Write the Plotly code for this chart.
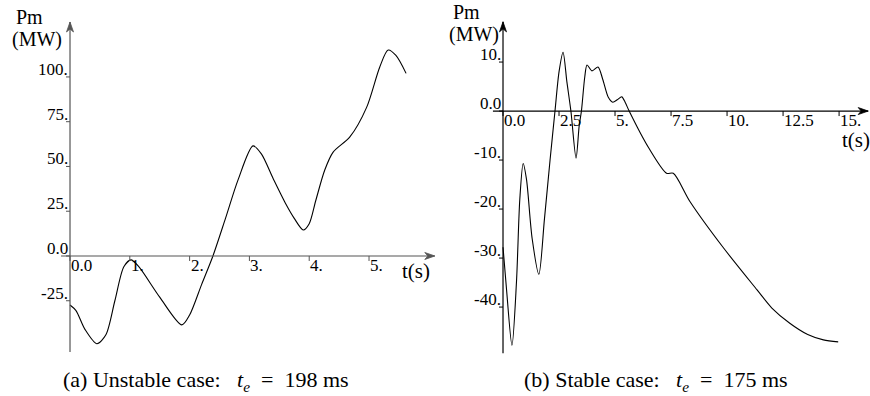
import plotly.graph_objects as go

W, H = 870, 396

# Panel (a): unstable case, mechanical power Pm (MW) against time t (s)
t_a = [0.0, 0.1, 0.25, 0.45, 0.6, 0.75, 0.9, 1.02, 1.15, 1.5, 1.87, 2.0, 2.2, 2.39,
       2.6, 2.81, 3.06, 3.2, 3.4, 3.6, 3.75, 3.9, 4.0, 4.11, 4.26, 4.4, 4.68, 4.96, 5.18,
       5.32, 5.45, 5.62]
pm_a = [-27.4, -30.5, -41.0, -49.0, -44.0, -25.0, -6.0, -2.2, -6.0, -23.0, -38.5, -33.0,
        -16.0, 0.0, 21.0, 42.5, 61.5, 57.0, 43.0, 29.6, 21.0, 14.5, 18.0, 31.0, 48.0, 58.0,
        66.5, 83.0, 105.6, 115.0, 112.0, 102.0]

# Panel (b): stable case
t_b = [0.0, 0.15, 0.4, 0.6, 0.75, 0.9, 1.05, 1.3, 1.6, 1.85, 2.1, 2.32, 2.5, 2.68, 2.85,
       3.03, 3.26, 3.4, 3.5, 3.65, 3.75, 3.97, 4.24, 4.45, 4.7, 4.9, 5.1, 5.3, 5.45, 5.63,
       6.5, 7.3, 7.6, 8.35, 9.82, 11.34, 12.0, 12.8, 13.6, 14.3, 14.96]
pm_b = [-27.8, -36.0, -47.8, -35.0, -18.0, -10.7, -14.0, -26.0, -33.3, -22.0, -10.0, 0.0,
        8.0, 12.0, 6.0, 0.0, -9.6, -3.0, 0.0, 7.0, 9.4, 8.2, 9.0, 6.5, 2.8, 1.8, 2.3, 2.9,
        1.8, 0.0, -7.5, -12.7, -12.7, -18.5, -27.8, -36.5, -40.2, -43.3, -45.6, -46.7, -47.1]

# Tick values and their labels
xt_a = [0, 1, 2, 3, 4, 5]
xl_a = ["0.0", "1.", "2.", "3.", "4.", "5."]
yt_a = [100, 75, 50, 25, 0, -25]
yl_a = ["100.", "75.", "50.", "25.", "0.0", "-25."]

xt_b = [0, 2.5, 5, 7.5, 10, 12.5, 15]
xl_b = ["0.0", "2.5", "5.", "7.5", "10.", "12.5", "15."]
yt_b = [10, 0, -10, -20, -30, -40]
yl_b = ["10.", "0.0", "-10.", "-20.", "-30.", "-40."]

SP = "&nbsp;"
captions = ["(a) Unstable case:" + SP * 3 + "<i>t<sub>e</sub></i>" + SP * 2 + "=" + SP * 2 + "198 ms",
            "(b) Stable case:" + SP * 3 + "<i>t<sub>e</sub></i>" + SP * 2 + "=" + SP * 2 + "175 ms"]

SERIF = "Liberation Serif, Times New Roman, serif"
TICK_SIZE = 17

panels = [
    # x/y axis ids, data, ticks, axis extents, axis colour
    dict(xa="x", ya="y", t=t_a, pm=pm_a, xt=xt_a, xl=xl_a, yt=yt_a, yl=yl_a,
         xr=[-0.251, 6.187], yr=[-58.1, 134.6], xspan=[-0.15, 6.10], yspan=[-53.6, 130.7],
         dom=[55, 440], color="#555555"),
    dict(xa="x2", ya="y2", t=t_b, pm=pm_b, xt=xt_b, xl=xl_b, yt=yt_b, yl=yl_b,
         xr=[-1.027, 16.38], yr=[-50.8, 19.6], xspan=[-0.45, 16.3], yspan=[-49.4, 18.2],
         dom=[480, 870], color="#000000"),
]

fig = go.Figure()
shapes, annotations = [], []

for p in panels:
    fig.add_trace(go.Scatter(x=p["t"], y=p["pm"], mode="lines",
                             line=dict(color="black", width=1.1, shape="spline", smoothing=0.8),
                             xaxis=p["xa"], yaxis=p["ya"], showlegend=False, hoverinfo="skip"))
    xr, yr = p["xa"], p["ya"]
    c = p["color"]
    # axis lines
    shapes.append(dict(type="line", xref=xr, yref=yr, x0=p["xspan"][0], x1=p["xspan"][1],
                       y0=0, y1=0, line=dict(color=c, width=1.2)))
    shapes.append(dict(type="line", xref=xr, yref=yr, x0=0, x1=0,
                       y0=p["yspan"][0], y1=p["yspan"][1], line=dict(color=c, width=1.2)))
    # arrow heads (pixel-sized paths anchored at the axis ends)
    shapes.append(dict(type="path", xref=xr, yref=yr, xsizemode="pixel", ysizemode="pixel",
                       xanchor=p["xspan"][1], yanchor=0, path="M0,0 L-10,3.5 L-7,0 L-10,-3.5 Z",
                       fillcolor=c, line=dict(color=c, width=0.8)))
    shapes.append(dict(type="path", xref=xr, yref=yr, xsizemode="pixel", ysizemode="pixel",
                       xanchor=0, yanchor=p["yspan"][1], path="M0,0 L3.5,-10 L0,-7 L-3.5,-10 Z",
                       fillcolor=c, line=dict(color=c, width=0.8)))
    # x ticks
    for v, lab in zip(p["xt"], p["xl"]):
        shapes.append(dict(type="line", xref=xr, yref=yr, x0=v, x1=v, ysizemode="pixel",
                           yanchor=0, y0=0, y1=-5, line=dict(color=c, width=1)))
        annotations.append(dict(xref=xr, yref=yr, x=v, y=0, text=lab, showarrow=False,
                                xanchor="left", yanchor="top", xshift=-1, yshift=2,
                                font=dict(family=SERIF, size=TICK_SIZE, color="black")))
    # y ticks
    for v, lab in zip(p["yt"], p["yl"]):
        shapes.append(dict(type="line", xref=xr, yref=yr, y0=v, y1=v, xsizemode="pixel",
                           xanchor=0, x0=-4, x1=0, line=dict(color=c, width=1)))
        annotations.append(dict(xref=xr, yref=yr, x=0, y=v, text=lab, showarrow=False,
                                xanchor="right", yanchor="bottom", xshift=0, yshift=-4,
                                font=dict(family=SERIF, size=TICK_SIZE, color="black")))


def txt(px, py, s, size):
    annotations.append(dict(xref="paper", yref="paper", x=px / W, y=1 - py / H, text=s,
                            showarrow=False, xanchor="center", yanchor="middle",
                            font=dict(family=SERIF, size=size, color="black")))


# axis titles
txt(29, 17, "Pm", 20)
txt(37, 40, "(MW)", 20)
txt(416, 271, "t(s)", 21)
txt(466, 12, "Pm", 20)
txt(474, 35, "(MW)", 20)
txt(856, 140, "t(s)", 21)
# panel captions
txt(206, 381, captions[0], 22)
txt(656, 381, captions[1], 22)

top, bot = 15, 360
ydom = [1 - bot / H, 1 - top / H]
p0, p1 = panels
fig.update_layout(
    width=W, height=H, margin=dict(l=0, r=0, t=0, b=0),
    paper_bgcolor="white", plot_bgcolor="white",
    xaxis=dict(domain=[p0["dom"][0] / W, p0["dom"][1] / W], range=p0["xr"], visible=False),
    yaxis=dict(domain=ydom, range=p0["yr"], visible=False),
    xaxis2=dict(domain=[p1["dom"][0] / W, p1["dom"][1] / W], range=p1["xr"], visible=False),
    yaxis2=dict(domain=ydom, range=p1["yr"], visible=False, anchor="x2"),
    shapes=shapes, annotations=annotations,
)

fig.write_html("out.html")
